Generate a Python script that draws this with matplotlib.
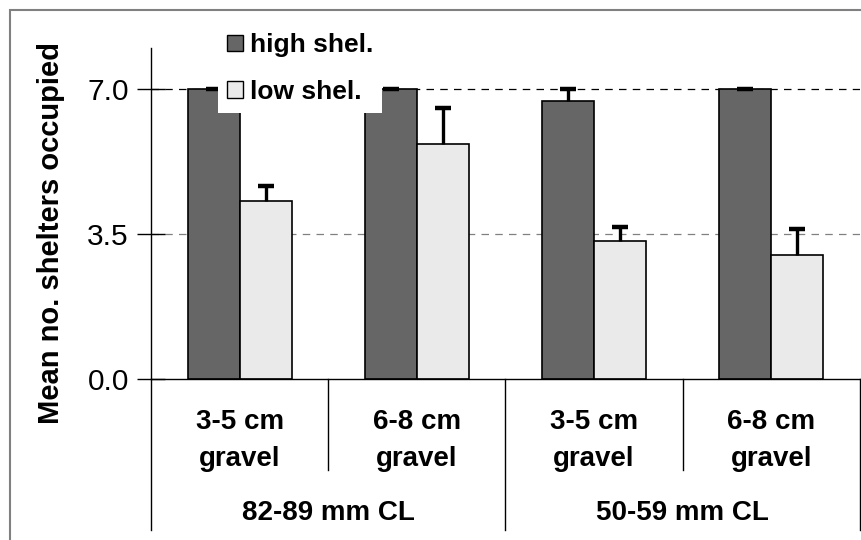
import matplotlib
matplotlib.use("Agg")
import matplotlib.pyplot as plt
from matplotlib.patches import Patch, Rectangle
import numpy as np

plt.rcParams['font.family'] = ['Liberation Sans', 'DejaVu Sans']

# datos
gravas = ["3-5 cm\ngravel", "6-8 cm\ngravel", "3-5 cm\ngravel", "6-8 cm\ngravel"]
grupos = ["82-89 mm CL", "50-59 mm CL"]
alto = [7.0, 7.0, 6.71, 7.0]
alto_err = [0.0, 0.0, 0.29, 0.0]
bajo = [4.31, 5.67, 3.33, 2.99]
bajo_err = [0.36, 0.89, 0.34, 0.63]
series = ["high shel.", "low shel."]
colores = ["#666666", "#EAEAEA"]

W, H = 862, 540
fig = plt.figure(figsize=(W/100, H/100), dpi=100)
ax = fig.add_axes([151/W, 1-379/H, (860-151)/W, (379-48)/H])

# marco exterior gris
fig.patches.append(Rectangle((10/W, -0.1), 1.2, 1.1 - 10/H, transform=fig.transFigure,
                             fill=False, edgecolor="#808080", linewidth=1.5))

x = np.arange(len(gravas)) + 0.5
w = 0.293
ax.bar(x - w/2, alto, w, color=colores[0], edgecolor="black", linewidth=1.2, zorder=2)
ax.bar(x + w/2, bajo, w, color=colores[1], edgecolor="black", linewidth=1.2, zorder=2)

# barras de error (solo hacia arriba)
for xs, v, e in [(x - w/2, alto, alto_err), (x + w/2, bajo, bajo_err)]:
    top = np.array(v) + np.array(e)
    ax.vlines(xs, v, top, color="black", linewidth=2.4, zorder=3)
    ax.plot(xs, top, linestyle="none", marker="_", markersize=12, markeredgewidth=3.2,
            color="black", zorder=3)

# lineas de referencia
ax.axhline(7.0, color="black", linestyle=(0, (6, 5)), linewidth=0.9, zorder=1)
ax.axhline(3.5, color="#808080", linestyle=(0, (6, 5)), linewidth=0.9, zorder=1)

ax.set_xlim(0, 4)
ax.set_ylim(0, 8)
ax.set_yticks([0, 3.5, 7.0])
ax.set_yticklabels(["0.0", "3.5", "7.0"], fontsize=21.5)
ax.tick_params(axis="y", direction="inout", length=20, width=1, pad=6)
ax.set_xticks([])
for s in ["top", "right"]:
    ax.spines[s].set_visible(False)
ax.spines["left"].set_linewidth(1)
ax.spines["bottom"].set_linewidth(1)

ax.set_ylabel("Mean no. shelters occupied", fontsize=21, fontweight="bold")
ax.yaxis.set_label_coords(-0.122, 0.44)

# etiquetas de categorias
tr = ax.get_xaxis_transform()
for xi, g in zip(x, gravas):
    ax.text(xi, -0.185, g, transform=tr, ha="center", va="center", fontsize=20,
            fontweight="bold", linespacing=1.55)
for i, g in enumerate(grupos):
    ax.text(2*i + 1, -0.405, g, transform=tr, ha="center", va="center", fontsize=20,
            fontweight="bold")
for xd in [0, 1, 2, 3, 4]:
    yb = -0.275 if xd in (1, 3) else -0.456
    ax.plot([xd, xd], [0, yb], transform=tr, color="black", linewidth=1, clip_on=False)

handles = [Patch(facecolor=c, edgecolor="black", linewidth=1) for c in colores]
leg = ax.legend(handles, series, loc="upper left", bbox_to_anchor=(218/W, 1-24/H),
                bbox_transform=fig.transFigure, frameon=True, facecolor="white",
                edgecolor="none", framealpha=1, fancybox=False, prop=dict(size=19, weight="bold"),
                handlelength=0.6, handleheight=0.6, handletextpad=0.25, labelspacing=0.86,
                borderpad=0.35, borderaxespad=0)
leg.set_zorder(5)

fig.savefig("out.png", dpi=100)
